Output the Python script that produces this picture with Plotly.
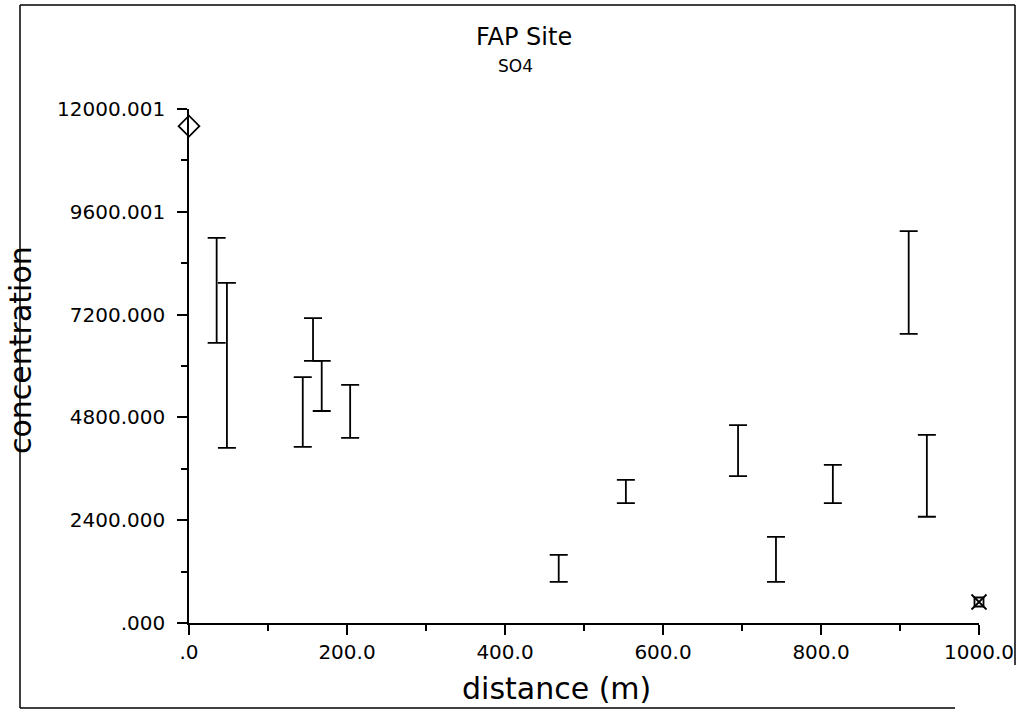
import plotly.graph_objects as go

# Error-bar data (distance in m, low / high concentration)
distance = [35, 48, 144, 157, 168, 204, 468, 553, 695, 743, 815, 911, 934]
conc_low = [6540, 4090, 4110, 6120, 4950, 4320, 960, 2800, 3430, 960, 2800, 6750, 2480]
conc_high = [8990, 7940, 5740, 7120, 6120, 5560, 1590, 3340, 4620, 2010, 3690, 9150, 4390]

# Special symbols
diamond_x = [0]
diamond_y = [11600]
box_x = [1000]
box_y = [490]

x_ticks = [0, 200, 400, 600, 800, 1000]
x_ticktext = [".0", "200.0", "400.0", "600.0", "800.0", "1000.0"]
y_ticks = [0, 2400, 4800, 7200, 9600, 12000]
y_ticktext = [".000", "2400.000", "4800.000", "7200.000", "9600.001", "12000.001"]

center = [(lo + hi) / 2 for lo, hi in zip(conc_low, conc_high)]
half = [(hi - lo) / 2 for lo, hi in zip(conc_low, conc_high)]

FONT = "DejaVu Sans"

fig = go.Figure()
fig.add_trace(go.Scatter(
    x=distance, y=center, mode="markers",
    marker=dict(size=1, color="rgba(0,0,0,0)"),
    error_y=dict(type="data", array=half, visible=True, color="black",
                 thickness=1.8, width=9),
    showlegend=False, hoverinfo="skip", cliponaxis=False,
))
fig.add_trace(go.Scatter(
    x=diamond_x, y=diamond_y, mode="markers",
    marker=dict(symbol="diamond-open", size=16, color="black",
                line=dict(width=1.8, color="black")),
    showlegend=False, cliponaxis=False,
))
fig.add_trace(go.Scatter(
    x=box_x, y=box_y, mode="markers",
    marker=dict(symbol="square-open", size=9, color="black",
                line=dict(width=1.8, color="black")),
    showlegend=False, cliponaxis=False,
))
fig.add_trace(go.Scatter(
    x=box_x, y=box_y, mode="markers",
    marker=dict(symbol="x-thin-open", size=15, color="black",
                line=dict(width=1.8, color="black")),
    showlegend=False, cliponaxis=False,
))

axis_common = dict(
    showline=True, linecolor="black", linewidth=1.5, mirror=False,
    showgrid=False, zeroline=False, ticks="outside", ticklen=10,
    tickwidth=1.5, tickcolor="black",
    tickfont=dict(family=FONT, size=20, color="black"),
)

fig.update_xaxes(
    range=[0, 1000], tickmode="array", tickvals=x_ticks, ticktext=x_ticktext,
    ticklabelstandoff=0,
    minor=dict(tickmode="array", tickvals=[100, 300, 500, 700, 900],
               ticks="outside", ticklen=6, tickwidth=1.5, tickcolor="black"),
    **axis_common,
)
fig.update_yaxes(
    range=[0, 12000], tickmode="array", tickvals=y_ticks, ticktext=y_ticktext,
    ticklabelstandoff=8,
    minor=dict(tickmode="array", tickvals=[1200, 3600, 6000, 8400, 10800],
               ticks="outside", ticklen=6, tickwidth=1.5, tickcolor="black"),
    **axis_common,
)

L, R, T, B = 189, 53, 109, 103
PW, PH = 1032 - L - R, 726 - T - B


def px_x(p):
    return (p - L) / PW


def px_y(p):
    return (726 - B - p) / PH


annotations = [
    dict(text="FAP Site", x=px_x(524), y=px_y(37), font=dict(size=24)),
    dict(text="SO4", x=px_x(515), y=px_y(66), font=dict(size=17)),
    dict(text="distance (m)", x=px_x(556), y=px_y(688), font=dict(size=30)),
    dict(text="concentration", x=px_x(20), y=px_y(350), font=dict(size=30),
         textangle=-90),
]
for a in annotations:
    a.update(xref="paper", yref="paper", showarrow=False,
             xanchor="center", yanchor="middle")
    a["font"].update(family=FONT, color="black")

# page border (scanned frame)
shapes = [
    dict(type="line", xref="paper", yref="paper", x0=px_x(20), x1=px_x(20),
         y0=px_y(5), y1=px_y(708)),
    dict(type="line", xref="paper", yref="paper", x0=px_x(20), x1=px_x(1015),
         y0=px_y(5), y1=px_y(5)),
    dict(type="line", xref="paper", yref="paper", x0=px_x(1015), x1=px_x(1015),
         y0=px_y(5), y1=px_y(665)),
    dict(type="line", xref="paper", yref="paper", x0=px_x(20), x1=px_x(955),
         y0=px_y(708), y1=px_y(708)),
]
for s in shapes:
    s["line"] = dict(color="black", width=1.5)

fig.update_layout(
    width=1032, height=726,
    margin=dict(l=L, r=R, t=T, b=B),
    paper_bgcolor="white", plot_bgcolor="white",
    annotations=annotations, shapes=shapes,
    font=dict(family=FONT, color="black"),
)

fig.write_html("out.html")
